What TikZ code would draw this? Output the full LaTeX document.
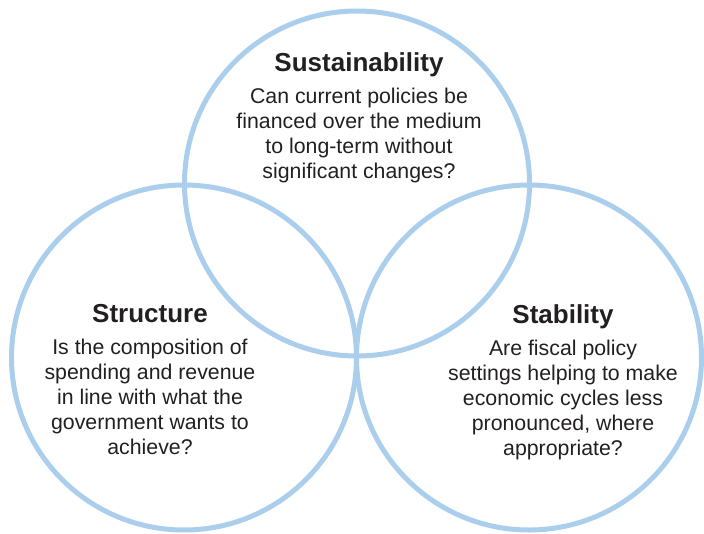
\documentclass[tikz,border=0pt]{standalone}
\usepackage{fontspec}
\setmainfont{Liberation Sans}
\definecolor{ringblue}{RGB}{171,206,236}
\definecolor{textgray}{RGB}{35,31,32}
\tikzset{
	ring/.style={draw=ringblue, line width=5pt},
	heading/.style={font=\fontsize{26}{30}\selectfont\bfseries, text=textgray, anchor=base, inner sep=0pt},
	question/.style={font=\fontsize{21.3}{25}\selectfont, text=textgray, align=center, anchor=base, inner sep=0pt}
}
\begin{document}
\begin{tikzpicture}[x=1pt,y=-1pt]
			\useasboundingbox (0,0) rectangle (704,533);
			
			% Top circle
			\draw[ring] (357,183.5) circle [radius=172.5];
			
			% Left circle
			\draw[ring] (184,357.5) circle [radius=172.5];
			
			% Right circle
			\draw[ring] (529,357.5) circle [radius=172.5];
			
			% Sustainability (question placed at its last line)
			\node[heading] (sust) at (359,71) {Sustainability};
			\node[question] (sustq) at (359,178) {Can current policies be\\financed over the medium\\to long-term without\\significant changes?};
			
			% Structure
			\node[heading] (struct) at (150,322) {Structure};
			\node[question] (structq) at (150,454) {Is the composition of\\spending and revenue\\in line with what the\\government wants to\\achieve?};
			
			% Stability
			\node[heading] (stab) at (563,323) {Stability};
			\node[question] (stabq) at (563,455) {Are fiscal policy\\settings helping to make\\economic cycles less\\pronounced, where\\appropriate?};
			
		\end{tikzpicture}
\end{document}
